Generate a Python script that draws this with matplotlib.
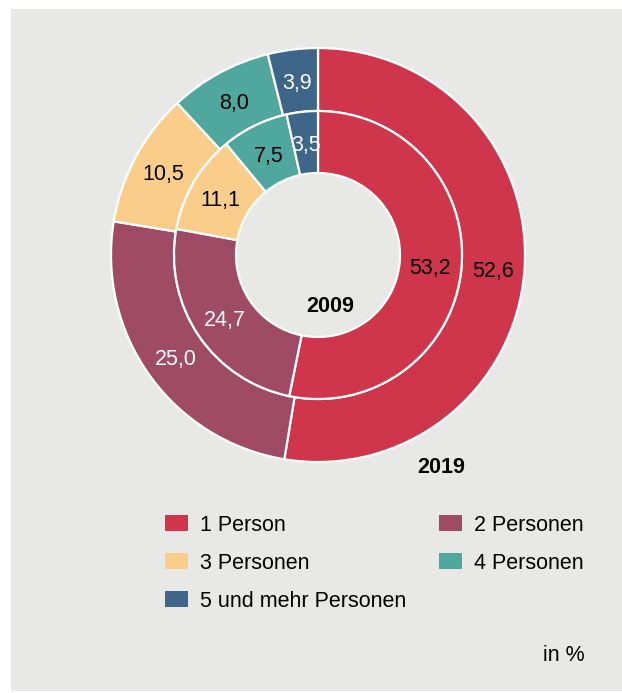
import matplotlib
matplotlib.use("Agg")
import matplotlib.pyplot as plt
from matplotlib.patches import Rectangle
import numpy as np

plt.rcParams["font.family"] = ["Liberation Sans", "DejaVu Sans"]

# ---------------------------------------------------------------------------
# Data
# ---------------------------------------------------------------------------
categories = ["1 Person", "2 Personen", "3 Personen", "4 Personen", "5 und mehr Personen"]
share_2019 = [52.6, 25.0, 10.5, 8.0, 3.9]   # outer ring
share_2009 = [53.2, 24.7, 11.1, 7.5, 3.5]   # inner ring
colors = ["#cf364b", "#a04b66", "#fbcd8a", "#4fa79d", "#3d6689"]
label_colors = ["black", "white", "black", "black", "white"]

W, H = 622, 693
BG = "#e8e8e6"
FS = 15.5

fig = plt.figure(figsize=(W / 100, H / 100), dpi=100)
fig.patch.set_facecolor("white")
# grey panel, kept behind the axes
fig.patches.append(Rectangle((11 / W, 1 - 691 / H), 611 / W, 682 / H,
                             transform=fig.transFigure, facecolor=BG,
                             edgecolor="none", zorder=-10))

# pie axes: centre (318, 255) px, outer radius 207 px
R = 207
cx, cy = 318, 255
ax = fig.add_axes([(cx - R) / W, 1 - (cy + R) / H, 2 * R / W, 2 * R / H])
ax.set_zorder(1)
ax.axis("off")

r_mid = 144 / R
r_hole = 82 / R
wp = dict(edgecolor="white", linewidth=1.6)

ax.pie(share_2019, radius=1.0, startangle=90, counterclock=False, colors=colors,
       wedgeprops=dict(width=1.0 - r_mid, **wp))
ax.pie(share_2009, radius=r_mid, startangle=90, counterclock=False, colors=colors,
       wedgeprops=dict(width=r_mid - r_hole, **wp))
ax.set_xlim(-1, 1)
ax.set_ylim(-1, 1)
ax.set_aspect("equal")


def ring_labels(values, r):
    total = sum(values)
    cum = np.cumsum(values) - np.array(values) / 2
    for v, c, col in zip(values, cum, label_colors):
        a = np.deg2rad(90 - 360 * c / total)
        ax.text(r * np.cos(a), r * np.sin(a), f"{v:.1f}".replace(".", ","),
                ha="center", va="center_baseline", fontsize=FS, color=col)


ring_labels(share_2019, (1.0 + r_mid) / 2)
ring_labels(share_2009, (r_mid + r_hole) / 2)

ax.text(12 / R, -49 / R, "2009", ha="center", va="center_baseline",
        fontsize=FS, fontweight="bold")
fig.text(441 / W, 1 - 465 / H, "2019", ha="center", va="center_baseline",
         fontsize=FS, fontweight="bold")

# ---------------------------------------------------------------------------
# Legend (two columns)
# ---------------------------------------------------------------------------
col_x = [165, 439]
row_y = [523, 561, 599]
for i, (name, col) in enumerate(zip(categories, colors)):
    x = col_x[i % 2]
    y = row_y[i // 2]
    fig.patches.append(Rectangle((x / W, 1 - (y + 8) / H), 23 / W, 16 / H,
                                 transform=fig.transFigure, facecolor=col,
                                 edgecolor="none"))
    fig.text((x + 35) / W, 1 - y / H, name, ha="left", va="center_baseline",
             fontsize=FS)

fig.text(585 / W, 1 - 653 / H, "in %", ha="right", va="center_baseline",
         fontsize=FS)

fig.savefig("out.png", dpi=100)
